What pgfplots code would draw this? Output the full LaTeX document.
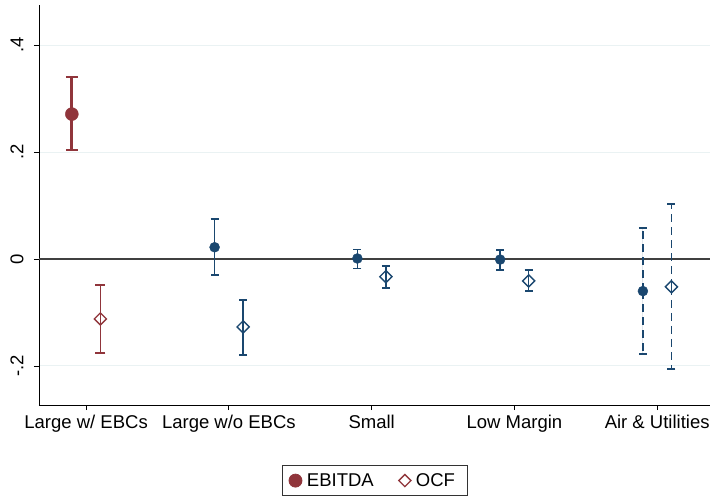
\documentclass[border=0pt]{standalone}
\usepackage{pgfplots}
\pgfplotsset{compat=1.18}
\usepackage{fontspec}
\setmainfont{Liberation Sans}
\definecolor{cran}{RGB}{144,53,59}
\definecolor{navy}{RGB}{26,71,111}
\definecolor{gridc}{RGB}{234,242,243}
\begin{document}
\begin{tikzpicture}
\begin{axis}[
  scale only axis, width=671pt, height=400pt,
  xmin=0.67, xmax=5.37, ymin=-0.273, ymax=0.475,
  axis x line*=bottom, axis y line*=left,
  axis line style={black, line width=0.8pt},
  xtick={1,2,3,4,5},
  xticklabels={Large w/ EBCs, Large w/o EBCs, Small, Low Margin, Air \& Utilities},
  ytick={-0.2,0,0.2,0.4},
  yticklabels={-.2,0,.2,.4},
  tick align=outside, major tick length=5pt,
  tick style={black, line width=0.8pt},
  ymajorgrids, grid style={gridc, line width=1pt},
  every tick label/.style={font=\fontsize{18.5}{22}\selectfont},
  yticklabel style={rotate=90, anchor=south, yshift=7pt},
  xticklabel style={yshift=-2pt},
  legend style={at={(0.5,-0.15)}, anchor=north, legend columns=2,
    draw=black!80, line width=0.8pt, font=\fontsize{18.5}{22}\selectfont,
    inner xsep=7pt, inner ysep=6pt,
    nodes={inner xsep=5pt},
    /tikz/column 2/.style={column sep=20pt}},
  legend cell align=left,
  error bars/y dir=both, error bars/y explicit,
  error bars/error mark=|,
]
\draw[black!75, line width=1.2pt] (axis cs:0.67,0) -- (axis cs:5.37,0);
% Cat 1 EBITDA
\addplot[only marks, mark=*, mark size=6.5pt, color=cran, fill=cran,
  error bars/error bar style={line width=2.8pt, color=cran},
  error bars/error mark options={mark size=6pt, line width=2.2pt, color=cran}]
  coordinates {(0.9,0.271) += (0,0.069) -= (0,0.067)};
\addlegendentry{EBITDA}
% Cat 1 OCF
\addplot[only marks, mark=square, mark size=4.3pt, mark options={rotate=45, fill=white}, color=cran, line width=1.3pt,
  error bars/error bar style={line width=1.5pt, color=cran},
  error bars/error mark options={mark size=5pt, line width=1.5pt, color=cran, rotate=0}]
  coordinates {(1.1,-0.112) += (0,0.063) -= (0,0.064)};
\addlegendentry{OCF}
% Cat 2-4 EBITDA
\addplot[only marks, mark=*, mark size=5pt, color=navy, fill=navy, forget plot,
  error bars/error bar style={line width=1.6pt, color=navy},
  error bars/error mark options={mark size=4pt, line width=1.6pt, color=navy}]
  coordinates {(1.9,0.022) += (0,0.053) -= (0,0.052)
               (2.9,0.001) += (0,0.017) -= (0,0.019)
               (3.9,-0.001) += (0,0.018) -= (0,0.020)};
% Cat 2-4 OCF
\addplot[only marks, mark=square, mark size=4.3pt, mark options={rotate=45, fill=white}, color=navy, line width=1.4pt, forget plot,
  error bars/error bar style={line width=1.6pt, color=navy},
  error bars/error mark options={mark size=4pt, line width=1.6pt, color=navy}]
  coordinates {(2.1,-0.127) += (0,0.050) -= (0,0.052)
               (3.1,-0.033) += (0,0.020) -= (0,0.021)
               (4.1,-0.041) += (0,0.020) -= (0,0.019)};
% Cat 5 EBITDA
\addplot[only marks, mark=*, mark size=5pt, color=navy, fill=navy, forget plot,
  error bars/error bar style={line width=1.6pt, color=navy, dash pattern=on 8pt off 5pt},
  error bars/error mark options={mark size=4pt, line width=1.6pt, color=navy, solid}]
  coordinates {(4.9,-0.060) += (0,0.118) -= (0,0.118)};
% Cat 5 OCF
\addplot[only marks, mark=square, mark size=4.3pt, mark options={rotate=45, fill=white}, color=navy, line width=1.4pt, forget plot,
  error bars/error bar style={line width=1.6pt, color=navy, dash pattern=on 8pt off 5pt},
  error bars/error mark options={mark size=4pt, line width=1.6pt, color=navy, solid}]
  coordinates {(5.1,-0.052) += (0,0.155) -= (0,0.154)};
\end{axis}
\pgfresetboundingbox
\path[use as bounding box] (-39pt,-93pt) rectangle (674pt,405pt);
\end{tikzpicture}
\end{document}
